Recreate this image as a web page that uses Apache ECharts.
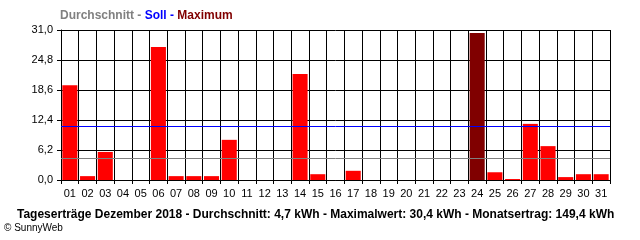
<!DOCTYPE html>
<html>
<head>
<meta charset="utf-8">
<script src="https://cdn.jsdelivr.net/npm/echarts@6/dist/echarts.min.js"></script>
<style>html,body{margin:0;padding:0;background:#fff;}#c{width:640px;height:240px;}</style>
</head>
<body>
<div id="c"></div>
<script>
const days = ['01','02','03','04','05','06','07','08','09','10','11','12','13','14','15','16','17','18','19','20','21','22','23','24','25','26','27','28','29','30','31'];
const yields = [19.6,0.8,5.8,0,0,27.5,0.8,0.8,0.8,8.3,0,0,0,21.9,1.2,0,1.9,0,0,0,0,0,0,30.4,1.6,0.2,11.6,7.0,0.6,1.2,1.2];
const averageLine = 4.45;   // grey line
const targetLine = 11.06;   // blue "Soll" line
const yTicks = [0, 6.2, 12.4, 18.6, 24.8, 31.0];
const footerText = 'Tageserträge Dezember 2018 - Durchschnitt: 4,7 kWh - Maximalwert: 30,4 kWh - Monatsertrag: 149,4 kWh';

const maxVal = Math.max.apply(null, yields);
const barData = yields.map(v => ({value: v, itemStyle: {color: v === maxVal ? '#800000' : '#ff0000'}}));
const FONT = 'Liberation Sans';

function refLine(value, color) {
  return {
    type: 'line',
    data: [],
    silent: true,
    z: 5,
    color: color,
    markLine: {
      silent: true,
      symbol: ['none', 'none'],
      label: {show: false},
      animation: false,
      lineStyle: {color: color, width: 1, type: 'solid', opacity: 1},
      emphasis: {disabled: true},
      data: [{yAxis: value}]
    }
  };
}

const chart = echarts.init(document.getElementById('c'), null, {renderer: 'canvas'});
chart.setOption({
  animation: false,
  backgroundColor: '#ffffff',
  grid: {left: 61, right: 30, top: 30, bottom: 60, containLabel: false},
  title: [{
    left: 60, top: 10, padding: 0,
    text: '{a|Durchschnitt - }{b|Soll - }{c|Maximum}',
    textStyle: {
      rich: {
        a: {color: '#808080', fontFamily: FONT, fontWeight: 'bold', fontSize: 12},
        b: {color: '#0000ff', fontFamily: FONT, fontWeight: 'bold', fontSize: 12},
        c: {color: '#800000', fontFamily: FONT, fontWeight: 'bold', fontSize: 12}
      }
    }
  }, {
    left: 17, top: 209, padding: 0,
    text: footerText,
    textStyle: {color: '#000', fontFamily: FONT, fontWeight: 'bold', fontSize: 12}
  }, {
    left: 4, top: 223, padding: 0,
    text: '© SunnyWeb',
    textStyle: {color: '#000', fontFamily: FONT, fontWeight: 'normal', fontSize: 10}
  }],
  xAxis: {
    type: 'category',
    data: days,
    boundaryGap: true,
    axisLine: {show: true, lineStyle: {color: '#000', width: 1}},
    axisTick: {show: true, length: 4, alignWithLabel: false, lineStyle: {color: '#000'}},
    axisLabel: {color: '#000', fontFamily: FONT, fontSize: 11, margin: 8, interval: 0},
    splitLine: {show: true, interval: 0, lineStyle: {color: '#000', width: 1}}
  },
  yAxis: {
    type: 'value',
    min: 0, max: 31, interval: 6.2,
    axisLine: {show: true, lineStyle: {color: '#000', width: 1}},
    axisTick: {show: true, length: 4, lineStyle: {color: '#000'}},
    axisLabel: {color: '#000', fontFamily: FONT, fontSize: 11, margin: 8,
      formatter: v => {
        const t = yTicks.find(x => Math.abs(x - v) < 1e-6);
        return (t !== undefined ? t : v).toFixed(1).replace('.', ',');
      }},
    splitLine: {show: true, lineStyle: {color: '#000', width: 1}}
  },
  series: [{
    type: 'bar',
    data: barData,
    barCategoryGap: '15%',
    silent: true
  }, refLine(targetLine, '#0000ff'), refLine(averageLine, '#808080')]
});
</script>
</body>
</html>
